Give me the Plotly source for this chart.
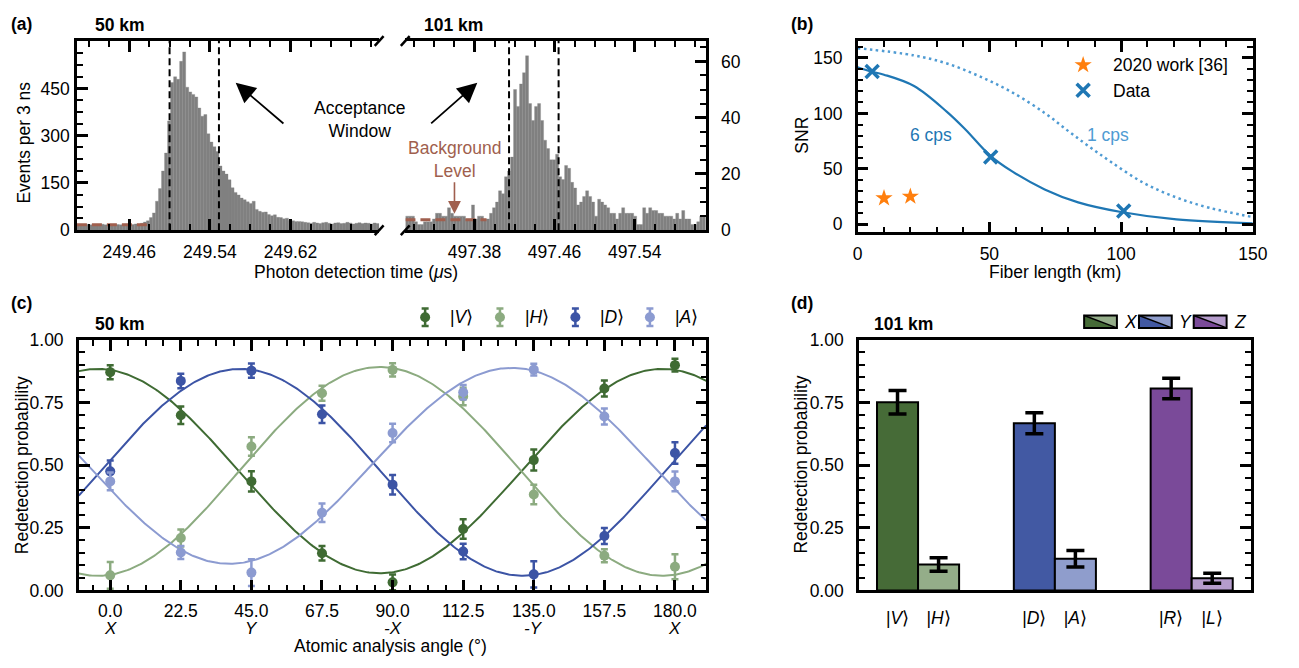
import numpy as np
import plotly.graph_objects as go

W, H = 1299, 668
FONT = "Liberation Sans, Arial, Helvetica, sans-serif"
FS = 17.5

# ---------------- (a) photon arrival histograms ----------------
bin_width_us = 0.003
hist50_first_bin_us = 249.408
hist101_first_bin_us = 497.311
counts_50km = [17, 18, 16, 19, 17, 18, 17, 18, 19, 17, 18, 16, 19, 18, 17, 18, 19, 17, 18, 20, 19,
               22, 26, 30, 40, 55, 92, 132, 188, 245, 347, 469, 487, 479, 536, 566, 454, 439, 431, 423,
               388, 362, 367, 306, 280, 265,
               250, 204, 188, 178, 160, 135, 120, 112, 102, 97, 90, 85, 92, 66, 60, 57, 58, 50, 46, 49,
               41, 40, 36, 38, 31, 30, 28, 28, 27, 25,
               24, 22, 25, 23, 21, 24, 25, 22, 20, 23, 24, 21, 22, 25, 23, 20, 22, 24, 21, 23, 22, 20, 23, 21]
counts_101km = [5, 5, 5, 3, 2, 2, 3, 3, 3, 4,
                6, 6, 5, 5, 8, 6, 5, 5, 5, 5,
                4, 4, 9, 4, 5, 5, 4, 4, 6, 8,
                10, 14, 13, 19, 21, 26, 50, 44, 52, 56,
                62, 45, 39, 44, 45, 39, 32, 29, 25, 25,
                27, 19, 18, 23, 22, 17, 15, 9, 10, 12,
                14, 12, 10, 5, 11, 10, 9, 8, 6, 6,
                4, 6, 8, 6, 6, 6, 5, 2, 2, 8,
                6, 8, 7, 7, 6, 6, 5, 5, 5, 4,
                6, 4, 7, 4, 4, 2, 2, 3, 5, 5]
window_50km_us = [249.500, 249.549]
window_101km_us = [497.4145, 497.464]
background_50km = 17
background_101km = 3.7
background_50km_span_us = [249.408, 249.482]
background_101km_span_us = [497.311, 497.392]
xticks_50km = [249.46, 249.54, 249.62]
xticks_101km = [497.38, 497.46, 497.54]
yticks_50km = [0, 150, 300, 450]
yticks_101km = [0, 20, 40, 60]

# ---------------- (b) SNR vs fiber length ----------------
fiber_km_data = [5.5, 50.5, 101]
snr_data = [137.8, 60.6, 12.0]
fiber_km_2020 = [10, 20]
snr_2020 = [23.6, 25.1]
curve_6cps_km = [0, 5, 10, 21.4, 33.9, 41, 50.3, 58.8, 71, 83.7, 100, 121, 150]
curve_6cps_snr = [141.6, 137.8, 134.9, 124.7, 101.4, 85.3, 62, 47.5, 31.5, 19.8, 11.1, 4.4, 0.9]
curve_1cps_km = [0, 21.4, 33.9, 46.3, 58.8, 71.3, 80, 87.5, 96.2, 108.6, 121, 133.5, 149.7]
curve_1cps_snr = [158.8, 152.3, 145.0, 133.4, 118.8, 99.9, 84.0, 70.8, 56.2, 37.3, 24.2, 14.9, 6.7]

# ---------------- (c) 50 km tomography scan ----------------
angles_deg = [0, 22.5, 45, 67.5, 90, 112.5, 135, 157.5, 180]
angle_letters = ["X", "", "Y", "", "-X", "", "-Y", "", "X"]
p_V = [0.871, 0.699, 0.435, 0.148, 0.032, 0.245, 0.520, 0.806, 0.899]
e_V = [0.028, 0.035, 0.040, 0.029, 0.031, 0.039, 0.042, 0.032, 0.025]
p_H = [0.060, 0.209, 0.574, 0.787, 0.880, 0.774, 0.383, 0.138, 0.094]
e_H = [0.053, 0.034, 0.037, 0.030, 0.026, 0.035, 0.039, 0.026, 0.050]
p_D = [0.475, 0.836, 0.877, 0.703, 0.422, 0.155, 0.064, 0.217, 0.548]
e_D = [0.043, 0.029, 0.028, 0.035, 0.039, 0.031, 0.052, 0.032, 0.043]
p_A = [0.435, 0.151, 0.071, 0.310, 0.628, 0.791, 0.881, 0.694, 0.435]
e_A = [0.035, 0.026, 0.053, 0.037, 0.037, 0.029, 0.023, 0.032, 0.039]
# sinusoidal fit parameters: offset, amplitude, angle of maximum (deg)
fit_V = (0.476, 0.408, -4.0)
fit_H = (0.475, 0.417, 86.0)
fit_D = (0.471, 0.413, 41.5)
fit_A = (0.497, 0.391, 128.0)

# ---------------- (d) 101 km redetection ----------------
bases = ["X", "Y", "Z"]
states = ["V", "H", "D", "A", "R", "L"]
redet = [0.751, 0.103, 0.667, 0.126, 0.806, 0.048]
redet_err = [0.047, 0.027, 0.042, 0.033, 0.041, 0.020]

# ---------------- colours ----------------
C_HIST = "#808080"
C_BG = "#a05f4e"
C_BLUE = "#1f77b4"
C_ORANGE = "#ff7f0e"
C_LIGHTBLUE = "#4f9bd3"
COL_C = {"V": "#3f6b33", "H": "#8cab80", "D": "#3c54a5", "A": "#8c9bd1"}
COL_D = ["#466b37", "#94ad89", "#4259a3", "#8f9dcc", "#7a4a99", "#b59ccc"]
BASE_COL = [("#466b37", "#94ad89"), ("#4259a3", "#8f9dcc"), ("#7a4a99", "#b59ccc")]


def xd(a, b):
    return [a / W, b / W]


def yd(top, bottom):
    return [1 - bottom / H, 1 - top / H]


def axis(**kw):
    d = dict(showline=True, linecolor="black", linewidth=2.5, ticks="inside", ticklen=11,
             tickwidth=2.5, tickcolor="black", showgrid=False, zeroline=False,
             tickfont=dict(family=FONT, size=FS, color="black"), fixedrange=True)
    d.update(kw)
    return d


def minor(dtick, tick0=0):
    return dict(ticks="inside", ticklen=6, tickwidth=1.5, tickcolor="black", dtick=dtick,
                tick0=tick0, showgrid=False)


fig = go.Figure()

# (a) histograms
x50 = hist50_first_bin_us + bin_width_us * (np.arange(len(counts_50km)) + 0.5)
x101 = hist101_first_bin_us + bin_width_us * (np.arange(len(counts_101km)) + 0.5)
fig.add_trace(go.Bar(x=x50, y=counts_50km, width=bin_width_us,
                     marker=dict(color=C_HIST, line=dict(color=C_HIST, width=0.3)),
                     xaxis="x", yaxis="y"))
fig.add_trace(go.Bar(x=x101, y=counts_101km, width=bin_width_us,
                     marker=dict(color=C_HIST, line=dict(color=C_HIST, width=0.3)),
                     xaxis="x2", yaxis="y2"))
fig.add_trace(go.Scatter(x=background_50km_span_us, y=[background_50km] * 2, mode="lines",
                         line=dict(color=C_BG, width=3, dash="10px,5px"), xaxis="x", yaxis="y"))
fig.add_trace(go.Scatter(x=background_101km_span_us, y=[background_101km] * 2, mode="lines",
                         line=dict(color=C_BG, width=3, dash="10px,5px"), xaxis="x2", yaxis="y2"))

# (b)
fig.add_trace(go.Scatter(x=curve_1cps_km, y=curve_1cps_snr, mode="lines", line_shape="spline",
                         line=dict(color=C_LIGHTBLUE, width=2.5, dash="2.5px,3.5px", smoothing=1.0),
                         xaxis="x3", yaxis="y3"))
fig.add_trace(go.Scatter(x=curve_6cps_km, y=curve_6cps_snr, mode="lines", line_shape="spline",
                         line=dict(color=C_BLUE, width=2.2), xaxis="x3", yaxis="y3"))
fig.add_trace(go.Scatter(x=fiber_km_2020, y=snr_2020, mode="markers",
                         marker=dict(symbol="star", size=13, color=C_ORANGE),
                         xaxis="x3", yaxis="y3"))
fig.add_trace(go.Scatter(x=fiber_km_data, y=snr_data, mode="markers",
                         marker=dict(symbol="x-thin", size=13, line=dict(color=C_BLUE, width=3.5)),
                         xaxis="x3", yaxis="y3"))

# (c)
theta = np.linspace(-10, 190, 401)
for name, fit in [("V", fit_V), ("H", fit_H), ("D", fit_D), ("A", fit_A)]:
    off, amp, peak = fit
    fig.add_trace(go.Scatter(x=theta, y=off + amp * np.cos(2 * np.radians(theta - peak)),
                             mode="lines", line=dict(color=COL_C[name], width=2),
                             xaxis="x4", yaxis="y4"))
for name, p, e in [("V", p_V, e_V), ("H", p_H, e_H), ("D", p_D, e_D), ("A", p_A, e_A)]:
    fig.add_trace(go.Scatter(x=angles_deg, y=p, mode="markers",
                             marker=dict(color=COL_C[name], size=10),
                             error_y=dict(type="data", array=e, color=COL_C[name], thickness=2.5,
                                          width=3.5),
                             xaxis="x4", yaxis="y4"))

# (d)
bar_pos = [i // 2 + (-0.15 if i % 2 == 0 else 0.15) for i in range(len(states))]
fig.add_trace(go.Bar(x=bar_pos, y=redet, width=0.3,
                     marker=dict(color=COL_D, line=dict(color="black", width=2)),
                     error_y=dict(type="data", array=redet_err, color="black", thickness=3.5,
                                  width=9),
                     xaxis="x5", yaxis="y5"))

# legends drawn on a page-pixel overlay axis (x6/y6)
fig.add_trace(go.Scatter(x=[1095], y=[56.7], mode="markers",
                         marker=dict(symbol="star", size=13, color=C_ORANGE), xaxis="x6", yaxis="y6"))
fig.add_trace(go.Scatter(x=[1095], y=[82.7], mode="markers",
                         marker=dict(symbol="x-thin", size=13, line=dict(color=C_BLUE, width=3.5)),
                         xaxis="x6", yaxis="y6"))
legend_c_x = [426.7, 502.7, 579.3, 655.0]
for name, lx in zip(["V", "H", "D", "A"], legend_c_x):
    fig.add_trace(go.Scatter(x=[lx], y=[316.7], mode="markers",
                             marker=dict(color=COL_C[name], size=10),
                             error_y=dict(type="constant", value=9, color=COL_C[name],
                                          thickness=2.5, width=3.5),
                             xaxis="x6", yaxis="y6"))

shapes = []
for v in window_50km_us:
    shapes.append(dict(type="line", xref="x", yref="y domain", x0=v, x1=v, y0=0, y1=1,
                       line=dict(color="black", width=2, dash="7px,4px")))
for v in window_101km_us:
    shapes.append(dict(type="line", xref="x2", yref="y2 domain", x0=v, x1=v, y0=0, y1=1,
                       line=dict(color="black", width=2, dash="7px,4px")))
# axis break marks
for (x0, y0, x1, y1) in [(375.5, 37, 384.5, 27), (375.5, 232, 384.5, 222),
                         (402, 37, 411, 27), (402, 232, 411, 222)]:
    shapes.append(dict(type="line", xref="x6", yref="y6", x0=x0, y0=y0, x1=x1, y1=y1,
                       line=dict(color="black", width=2.5)))
# (d) legend boxes
box_x = [(1096, 1129.3), (1151.7, 1185), (1207.3, 1240.7)]
for (a, b), (dark, light) in zip(box_x, BASE_COL):
    t, btm = 315, 327.7
    shapes.append(dict(type="path", xref="x6", yref="y6",
                       path=f"M{a},{t} L{a},{btm} L{b},{btm} Z", fillcolor=dark,
                       line=dict(width=0)))
    shapes.append(dict(type="path", xref="x6", yref="y6",
                       path=f"M{a},{t} L{b},{t} L{b},{btm} Z", fillcolor=light,
                       line=dict(width=0)))
    shapes.append(dict(type="line", xref="x6", yref="y6", x0=a, y0=t, x1=b, y1=btm,
                       line=dict(color="black", width=1.5)))
    shapes.append(dict(type="rect", xref="x6", yref="y6", x0=a, y0=t, x1=b, y1=btm,
                       line=dict(color="black", width=2)))


def txt(x, y, s, size=FS, color="black", xanchor="center", angle=0):
    return dict(x=x, y=y, xref="x6", yref="y6", text=s, showarrow=False,
                font=dict(family=FONT, size=size, color=color), xanchor=xanchor,
                yanchor="middle", textangle=angle)


ann = [
    txt(4, 14, "<b>(a)</b>", xanchor="left"),
    txt(89, 15, "<b>50 km</b>", xanchor="left"),
    txt(424, 15, "<b>101 km</b>", xanchor="left"),
    txt(796, 14, "<b>(b)</b>", xanchor="left"),
    txt(4, 302, "<b>(c)</b>", xanchor="left"),
    txt(89, 323.3, "<b>50 km</b>", xanchor="left"),
    txt(796, 302, "<b>(d)</b>", xanchor="left"),
    txt(881, 323.3, "<b>101 km</b>", xanchor="left"),
    txt(19, 137, "Events per 3 ns", angle=-90),
    txt(356, 270, "Photon detection time (<i>μ</i>s)"),
    txt(810, 129, "SNR", angle=-90),
    txt(1066, 270, "Fiber length (km)"),
    txt(17.5, 469, "Redetection probability", angle=-90),
    txt(392, 656, "Atomic analysis angle (°)"),
    txt(808, 469, "Redetection probability", angle=-90),
    txt(360, 113, "Acceptance<br>Window"),
    txt(457, 154, "Background<br>Level", color=C_BG),
    txt(1123, 57, "2020 work [36]", xanchor="left"),
    txt(1123, 83, "Data", xanchor="left"),
    txt(940, 129.3, "6 cps", color=C_BLUE),
    txt(1120, 129.3, "1 cps", color=C_LIGHTBLUE),
]
for name, lx in zip(["V", "H", "D", "A"], legend_c_x):
    ann.append(txt(lx + 23, 316.7, f"|<i>{name}</i>⟩", xanchor="left"))
for base, (a, b) in zip(bases, box_x):
    ann.append(txt(b + 5, 321.3, f"<i>{base}</i>", xanchor="left"))
# angle letters under (c) ticks
for ang, let in zip(angles_deg, angle_letters):
    if let:
        ann.append(dict(x=ang, y=637.5, xref="x4", yref="y6", text=f"<i>{let}</i>",
                        showarrow=False, font=dict(family=FONT, size=17, color="black"),
                        xanchor="center", yanchor="middle"))
# arrows
for (tx, ty, sx, sy) in [(234.3, 75, 284.3, 118.3), (479.7, 75, 431.3, 118.3)]:
    ann.append(dict(x=tx, y=ty, ax=sx, ay=sy, xref="x6", yref="y6", axref="x6", ayref="y6",
                    text="", showarrow=True, arrowhead=2, arrowsize=2.2, arrowwidth=1.8,
                    arrowcolor="black"))
ann.append(dict(x=456.5, y=210, ax=456.5, ay=176, xref="x6", yref="y6", axref="x6", ayref="y6",
                text="", showarrow=True, arrowhead=2, arrowsize=1.6, arrowwidth=1.6,
                arrowcolor=C_BG))

fig.update_layout(
    width=W, height=H, margin=dict(l=0, r=0, t=0, b=0),
    paper_bgcolor="white", plot_bgcolor="rgba(0,0,0,0)", showlegend=False,
    font=dict(family=FONT, size=FS, color="black"),
    shapes=shapes, annotations=ann,
    xaxis=axis(domain=xd(73, 380), range=[249.408, 249.708], anchor="y", mirror="ticks",
               tickmode="array", tickvals=xticks_50km, ticktext=[f"{v:.2f}" for v in xticks_50km],
               minor=minor(0.02, 249.46), ticklabelstandoff=4),
    yaxis=axis(domain=yd(31.8, 227), range=[0, 601], anchor="x", tickmode="array",
               tickvals=yticks_50km, minor=minor(37.5, 0), ticklabelstandoff=1),
    xaxis2=axis(domain=xd(406.7, 711.7), range=[497.311, 497.611], anchor="y2", mirror="ticks",
                tickmode="array", tickvals=xticks_101km,
                ticktext=[f"{v:.2f}" for v in xticks_101km],
                minor=minor(0.02, 497.38), ticklabelstandoff=4),
    yaxis2=axis(domain=yd(31.8, 227), range=[0, 67.3], anchor="x2", side="right",
                tickmode="array", tickvals=yticks_101km, minor=minor(5, 0), ticklabelstandoff=9),
    xaxis3=axis(domain=xd(866, 1267.3), range=[0, 150], anchor="y3", mirror="ticks",
                tickmode="array", tickvals=[0, 50, 100, 150], minor=minor(10, 0),
                ticklabelstandoff=4),
    yaxis3=axis(domain=yd(31.7, 229.3), range=[-7.3, 165.5], anchor="x3", mirror="ticks",
                tickmode="array", tickvals=[0, 50, 100, 150], minor=minor(10, 0),
                ticklabelstandoff=9),
    xaxis4=axis(domain=xd(75, 712.3), range=[-10, 190], anchor="y4", mirror="ticks",
                tickmode="array", tickvals=angles_deg, ticktext=[f"{a:.1f}" for a in angles_deg],
                minor=minor(5.625, 0), ticklabelstandoff=3),
    yaxis4=axis(domain=yd(340, 598.3), range=[0, 1], anchor="x4", mirror="ticks",
                tickmode="array", tickvals=[0, 0.25, 0.5, 0.75, 1.0],
                ticktext=["0.00", "0.25", "0.50", "0.75", "1.00"], minor=minor(0.05, 0),
                ticklabelstandoff=9),
    xaxis5=axis(domain=xd(867.3, 1265), range=[-0.432, 2.43], anchor="y5", mirror=True,
                ticks="", tickmode="array", tickvals=bar_pos,
                ticktext=[f"|<i>{s}</i>⟩" for s in states], ticklabelstandoff=10),
    yaxis5=axis(domain=yd(340, 598.3), range=[0, 1], anchor="x5", mirror="ticks",
                tickmode="array", tickvals=[0, 0.25, 0.5, 0.75, 1.0],
                ticktext=["0.00", "0.25", "0.50", "0.75", "1.00"], minor=minor(0.05, 0),
                ticklabelstandoff=9),
    xaxis6=dict(domain=[0, 1], range=[0, W], visible=False, fixedrange=True, anchor="y6"),
    yaxis6=dict(domain=[0, 1], range=[H, 0], visible=False, fixedrange=True, anchor="x6"),
)

fig.write_html("out.html")
